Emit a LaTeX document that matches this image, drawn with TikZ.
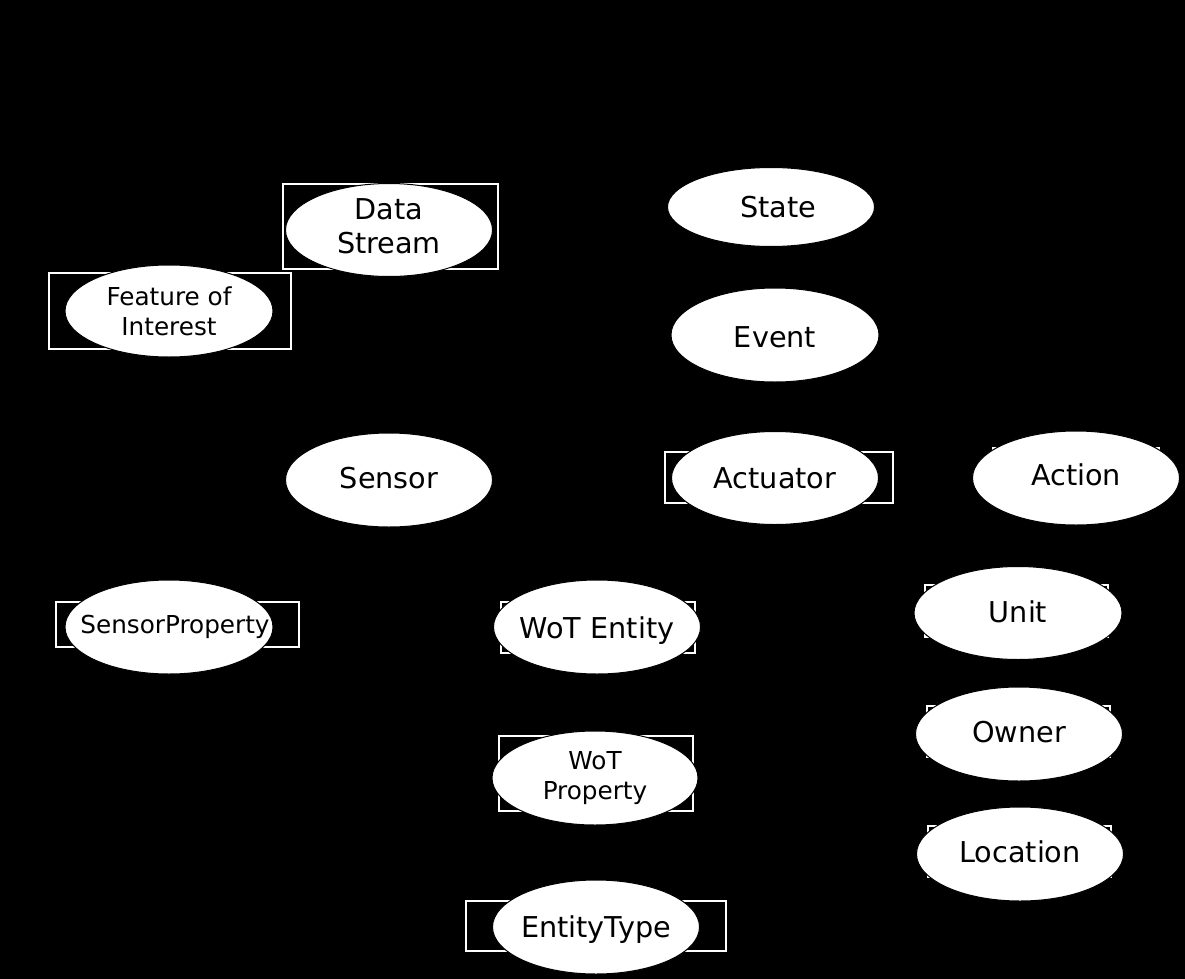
\documentclass[tikz,border=0pt]{standalone}
\usepackage{fontspec}
\setmainfont{DejaVu Sans}
\usetikzlibrary{shapes.geometric}
\newcommand\mvtxt[2]{\raisebox{#1}[\height][\depth]{#2}}
\tikzset{
  ent/.style={ellipse, fill=white, draw=black, line width=1pt, inner xsep=-40pt, inner ysep=-12pt,
    align=center, text=black, font=\fontsize{28.7}{34}\selectfont},
  small/.style={font=\fontsize{24.7}{30}\selectfont},
  frame/.style={draw=white, line width=2pt}
}
\begin{document}
\begin{tikzpicture}[x=1pt,y=-1pt]
\fill[black] (0,0) rectangle (1185,979);
\useasboundingbox (0,0) rectangle (1185,979);
% frames behind the ellipses
\draw[frame] (283,184) rectangle (498,269);
\draw[frame] (49,273) rectangle (291,349);
\draw[frame] (665,452) rectangle (893,503);
\draw[frame] (993,448) rectangle (1159,503);
\draw[frame] (925,585) rectangle (1108,637);
\draw[frame] (56,602) rectangle (299,647);
\draw[frame] (501,602) rectangle (695,653);
\draw[frame] (499,736) rectangle (693,811);
\draw[frame] (466,901) rectangle (726,951);
\draw[frame] (927,706) rectangle (1110,757);
\draw[frame] (928,826) rectangle (1111,877);
% entities
\node[ent, minimum width=207, minimum height=93] (ds) at (389,230) {\raisebox{3pt}{\begin{tabular}{@{}c@{}}Data\\Stream\end{tabular}}};
\node[ent, small, minimum width=208, minimum height=92] (foi) at (169,311) {Feature of\\Interest};
\node[ent, minimum width=207, minimum height=79] (state) at (771,207) {\hspace*{14pt}State};
\node[ent, minimum width=208, minimum height=94] (event) at (775,335) {\mvtxt{-2pt}{Event}};
\node[ent, minimum width=207, minimum height=94] (sensor) at (389,480) {\mvtxt{2pt}{Sensor}};
\node[ent, minimum width=207, minimum height=93] (act) at (775,478) {Actuator};
\node[ent, minimum width=207, minimum height=94] (action) at (1076,478) {\mvtxt{3pt}{Action}};
\node[ent, minimum width=208, minimum height=93] (unit) at (1018,613) {\mvtxt{1pt}{Unit}};
\node[ent, small, minimum width=208, minimum height=94] (sp) at (169,627) {\hspace*{12pt}SensorProperty};
\node[ent, minimum width=207, minimum height=94] (wot) at (597,627) {\mvtxt{-4pt}{WoT Entity}};
\node[ent, small, minimum width=206, minimum height=94] (wp) at (595,778) {WoT\\Property};
\node[ent, minimum width=207, minimum height=94] (et) at (596,927) {\mvtxt{-3pt}{EntityType}};
\node[ent, minimum width=207, minimum height=94] (owner) at (1019,734) {\mvtxt{2pt}{Owner}};
\node[ent, minimum width=207, minimum height=94] (loc) at (1020,854) {\mvtxt{2pt}{Location}};
\end{tikzpicture}
\end{document}
